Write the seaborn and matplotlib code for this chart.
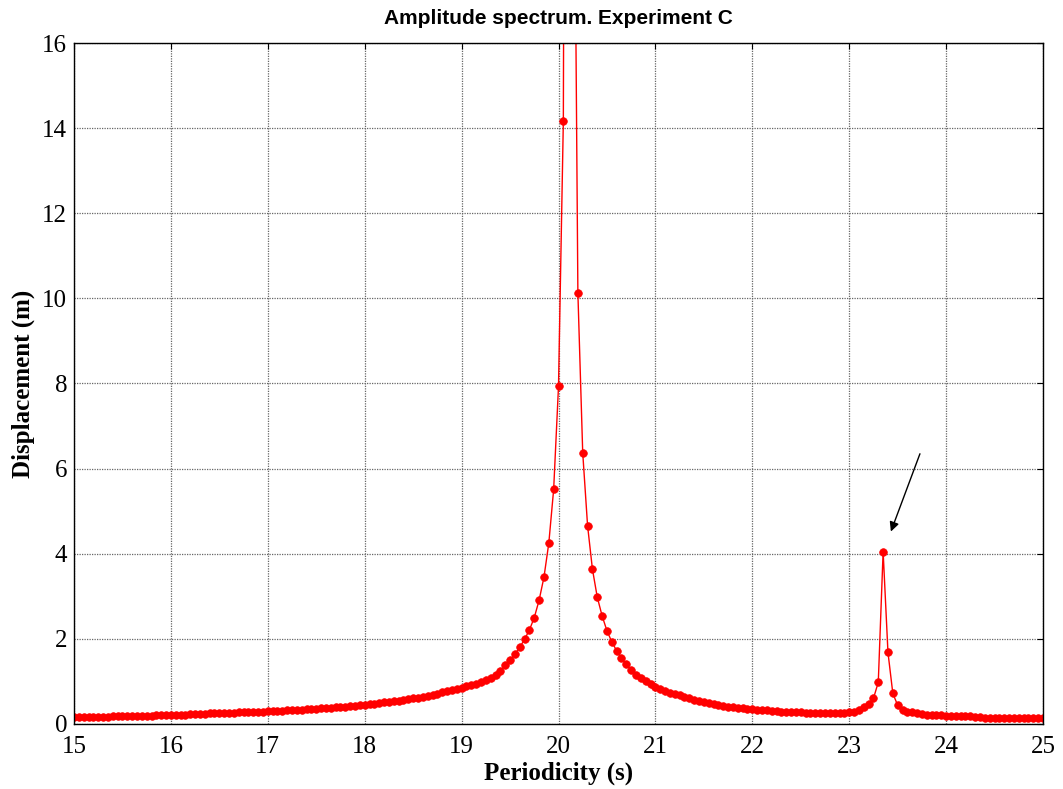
import matplotlib
matplotlib.use('Agg')
import matplotlib.pyplot as plt
import numpy as np
import pandas as pd
import seaborn as sns

# periodicity sampling grid (s), every 0.05 s from 15 to 25
periodicity = np.round(np.arange(15.0, 25.0001, 0.05), 2)

# displacement (m), one list per second of periodicity
disp_15 = [0.155, 0.155, 0.16, 0.16, 0.16, 0.16, 0.165, 0.17, 0.185, 0.19,
           0.19, 0.19, 0.19, 0.19, 0.19, 0.195, 0.195, 0.20, 0.20, 0.21]
disp_16 = [0.22, 0.22, 0.22, 0.22, 0.225, 0.23, 0.24, 0.245, 0.25, 0.25,
           0.25, 0.25, 0.255, 0.26, 0.27, 0.275, 0.28, 0.28, 0.285, 0.29]
disp_17 = [0.30, 0.31, 0.31, 0.31, 0.32, 0.325, 0.33, 0.34, 0.35, 0.355,
           0.36, 0.37, 0.375, 0.38, 0.39, 0.40, 0.41, 0.42, 0.43, 0.44]
disp_18 = [0.45, 0.47, 0.48, 0.50, 0.51, 0.52, 0.54, 0.55, 0.57, 0.58,
           0.60, 0.62, 0.64, 0.66, 0.68, 0.71, 0.74, 0.77, 0.80, 0.82]
disp_19 = [0.85, 0.89, 0.92, 0.95, 0.99, 1.04, 1.09, 1.16, 1.25, 1.38,
           1.50, 1.64, 1.80, 1.99, 2.21, 2.50, 2.91, 3.45, 4.25, 5.51]
disp_20 = [7.93, 14.17, 55.0, 25.0, 10.13, 6.37, 4.66, 3.64, 2.98, 2.54,
           2.19, 1.93, 1.72, 1.54, 1.40, 1.27, 1.16, 1.07, 1.00, 0.94]
disp_21 = [0.88, 0.82, 0.77, 0.73, 0.70, 0.67, 0.63, 0.60, 0.57, 0.54,
           0.51, 0.49, 0.47, 0.45, 0.43, 0.41, 0.40, 0.38, 0.37, 0.36]
disp_22 = [0.35, 0.34, 0.33, 0.32, 0.31, 0.30, 0.29, 0.29, 0.28, 0.28,
           0.27, 0.26, 0.25, 0.25, 0.25, 0.25, 0.25, 0.25, 0.25, 0.25]
disp_23 = [0.27, 0.29, 0.34, 0.40, 0.46, 0.60, 0.98, 4.05, 1.68, 0.72,
           0.44, 0.34, 0.29, 0.27, 0.25, 0.23, 0.22, 0.21, 0.20, 0.20]
disp_24 = [0.19, 0.19, 0.19, 0.19, 0.19, 0.18, 0.16, 0.155, 0.15, 0.15,
           0.15, 0.15, 0.15, 0.15, 0.15, 0.15, 0.15, 0.15, 0.15, 0.15]
disp_25 = [0.15]

displacement = (disp_15 + disp_16 + disp_17 + disp_18 + disp_19 +
                disp_20 + disp_21 + disp_22 + disp_23 + disp_24 + disp_25)

x_ticks = list(range(15, 26))
y_ticks = list(range(0, 17, 2))

df = pd.DataFrame({'Periodicity': periodicity, 'Displacement': displacement})

sns.set_style('white')
plt.rcParams['font.family'] = ['Liberation Serif', 'DejaVu Serif']
plt.rcParams['text.color'] = 'black'
plt.rcParams['axes.labelcolor'] = 'black'

fig = plt.figure(figsize=(10.63, 7.89), dpi=100)
ax = fig.add_axes([0.0696, 0.0824, 0.9116, 0.8631])

sns.lineplot(data=df, x='Periodicity', y='Displacement', ax=ax, color='red',
             linewidth=1, marker='o', markersize=5.5, markeredgecolor='red',
             markeredgewidth=0.5)

ax.set_xlim(15, 25)
ax.set_ylim(0, 16)
ax.set_xticks(x_ticks)
ax.set_yticks(y_ticks)
ax.tick_params(direction='in', length=4, width=0.8, labelsize=18,
               top=True, right=True, colors='black')
ax.tick_params(axis='x', pad=9)
ax.tick_params(axis='y', pad=5)
ax.grid(True, color='0.4', linestyle=(0, (1, 1)), linewidth=0.9)

for s in ax.spines.values():
    s.set_color('black')
    s.set_linewidth(1)

ax.set_xlabel('Periodicity (s)', fontsize=18, fontweight='bold', labelpad=2,
              color='black')
ax.set_ylabel('Displacement (m)', fontsize=18, fontweight='bold', labelpad=5,
              color='black')
ax.set_title('Amplitude spectrum. Experiment C', fontsize=15, fontweight='bold',
             family=['Liberation Sans', 'DejaVu Sans'], pad=14, color='black')

ax.annotate('', xy=(23.42, 4.46), xytext=(23.74, 6.41),
            arrowprops=dict(arrowstyle='-|>', color='black', lw=1,
                            mutation_scale=14))

fig.savefig('out.png', dpi=100)
